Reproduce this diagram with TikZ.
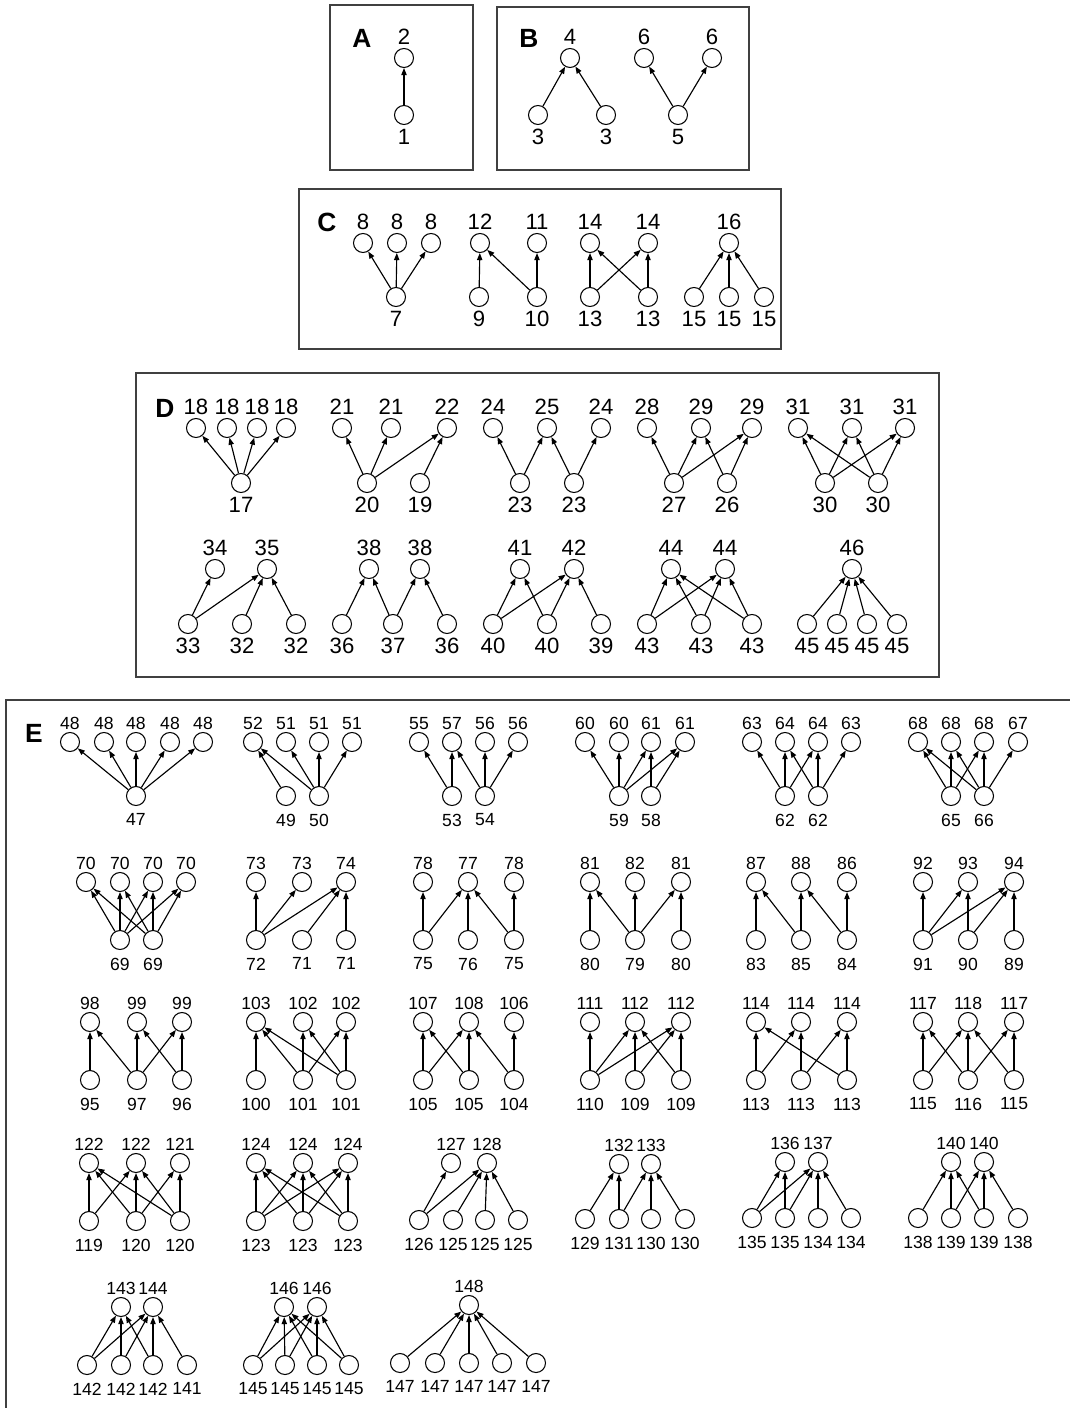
\documentclass[tikz,border=0pt]{standalone}
\usepackage{fontspec}
\setmainfont{Liberation Sans}
\usetikzlibrary{arrows.meta}
\tikzset{
  vtx/.style={circle,draw,line width=0.6pt,minimum size=0.38cm,inner sep=0pt},
  tlab/.style={label={[label distance=\tgap]above:#1}},
  blab/.style={label={[label distance=\bgap]below:#1}},
  link/.style={-{Triangle[length=4pt,width=3pt]},line width=0.65pt},
  panel/.style={draw=black!75,line width=0.9pt},
  tag/.style={font=\fontsize{15}{17}\selectfont\bfseries}
}
\def\tgap{1.6pt}
\def\bgap{2.1pt}
\begin{document}
\begin{tikzpicture}[x=0.02cm,y=0.02cm,every label/.style={inner sep=0pt,font=\fontsize{12.6}{14}\selectfont}]
\useasboundingbox (0,0) rectangle (1069,-1408);
\draw[panel] (330,-5) rectangle (473,-170);
\node[tag] (tA) at (362,-38) {A};
\node[vtx,tlab=2] (a2) at (404,-58) {};
\node[vtx,blab=1] (a1) at (404,-115) {};
\draw[link] (a1) -- (a2);
\draw[panel] (497,-7) rectangle (749,-170);
\node[tag] (tB) at (529,-38) {B};
\node[vtx,tlab=4] (b4) at (570,-58) {};
\node[vtx,tlab=6] (b6a) at (644,-58) {};
\node[vtx,tlab=6] (b6b) at (712,-58) {};
\node[vtx,blab=3] (b3a) at (538,-115) {};
\node[vtx,blab=3] (b3b) at (606,-115) {};
\node[vtx,blab=5] (b5) at (678,-115) {};
\draw[link] (b3a) -- (b4);
\draw[link] (b3b) -- (b4);
\draw[link] (b5) -- (b6a);
\draw[link] (b5) -- (b6b);
\draw[panel] (299,-189) rectangle (781,-349);
\node[tag] (tC) at (327,-222) {C};
\node[vtx,tlab=8] (c8a) at (363,-243) {};
\node[vtx,tlab=8] (c8b) at (397,-243) {};
\node[vtx,tlab=8] (c8c) at (431,-243) {};
\node[vtx,tlab=12] (c12) at (480,-243) {};
\node[vtx,tlab=11] (c11) at (537,-243) {};
\node[vtx,tlab=14] (c14a) at (590,-243) {};
\node[vtx,tlab=14] (c14b) at (648,-243) {};
\node[vtx,tlab=16] (c16) at (729,-243) {};
\node[vtx,blab=7] (c7) at (396,-297) {};
\node[vtx,blab=9] (c9) at (479,-297) {};
\node[vtx,blab=10] (c10) at (537,-297) {};
\node[vtx,blab=13] (c13a) at (590,-297) {};
\node[vtx,blab=13] (c13b) at (648,-297) {};
\node[vtx,blab=15] (c15a) at (694,-297) {};
\node[vtx,blab=15] (c15b) at (729,-297) {};
\node[vtx,blab=15] (c15c) at (764,-297) {};
\draw[link] (c7) -- (c8a);
\draw[link] (c7) -- (c8b);
\draw[link] (c7) -- (c8c);
\draw[link] (c9) -- (c12);
\draw[link] (c10) -- (c12);
\draw[link] (c10) -- (c11);
\draw[link] (c13a) -- (c14a);
\draw[link] (c13a) -- (c14b);
\draw[link] (c13b) -- (c14a);
\draw[link] (c13b) -- (c14b);
\draw[link] (c15a) -- (c16);
\draw[link] (c15b) -- (c16);
\draw[link] (c15c) -- (c16);
\draw[panel] (136,-373) rectangle (939,-677);
\node[tag] (tD) at (165,-408) {D};
\node[vtx,tlab=18] (d18a) at (196,-428) {};
\node[vtx,tlab=18] (d18b) at (227,-428) {};
\node[vtx,tlab=18] (d18c) at (257,-428) {};
\node[vtx,tlab=18] (d18d) at (286,-428) {};
\node[vtx,blab=17] (d17) at (241,-483) {};
\node[vtx,tlab=21] (d21a) at (342,-428) {};
\node[vtx,tlab=21] (d21b) at (391,-428) {};
\node[vtx,tlab=22] (d22) at (447,-428) {};
\node[vtx,blab=20] (d20) at (367,-483) {};
\node[vtx,blab=19] (d19) at (420,-483) {};
\node[vtx,tlab=24] (d24a) at (493,-428) {};
\node[vtx,tlab=25] (d25) at (547,-428) {};
\node[vtx,tlab=24] (d24b) at (601,-428) {};
\node[vtx,blab=23] (d23a) at (520,-483) {};
\node[vtx,blab=23] (d23b) at (574,-483) {};
\node[vtx,tlab=28] (d28) at (647,-428) {};
\node[vtx,tlab=29] (d29a) at (701,-428) {};
\node[vtx,tlab=29] (d29b) at (752,-428) {};
\node[vtx,blab=27] (d27) at (674,-483) {};
\node[vtx,blab=26] (d26) at (727,-483) {};
\node[vtx,tlab=31] (d31a) at (798,-428) {};
\node[vtx,tlab=31] (d31b) at (852,-428) {};
\node[vtx,tlab=31] (d31c) at (905,-428) {};
\node[vtx,blab=30] (d30a) at (825,-483) {};
\node[vtx,blab=30] (d30b) at (878,-483) {};
\node[vtx,tlab=34] (d34) at (215,-569) {};
\node[vtx,tlab=35] (d35) at (267,-569) {};
\node[vtx,blab=33] (d33) at (188,-624) {};
\node[vtx,blab=32] (d32a) at (242,-624) {};
\node[vtx,blab=32] (d32b) at (296,-624) {};
\node[vtx,tlab=38] (d38a) at (369,-569) {};
\node[vtx,tlab=38] (d38b) at (420,-569) {};
\node[vtx,blab=36] (d36a) at (342,-624) {};
\node[vtx,blab=37] (d37) at (393,-624) {};
\node[vtx,blab=36] (d36b) at (447,-624) {};
\node[vtx,tlab=41] (d41) at (520,-569) {};
\node[vtx,tlab=42] (d42) at (574,-569) {};
\node[vtx,blab=40] (d40a) at (493,-624) {};
\node[vtx,blab=40] (d40b) at (547,-624) {};
\node[vtx,blab=39] (d39) at (601,-624) {};
\node[vtx,tlab=44] (d44a) at (671,-569) {};
\node[vtx,tlab=44] (d44b) at (725,-569) {};
\node[vtx,blab=43] (d43a) at (647,-624) {};
\node[vtx,blab=43] (d43b) at (701,-624) {};
\node[vtx,blab=43] (d43c) at (752,-624) {};
\node[vtx,tlab=46] (d46) at (852,-569) {};
\node[vtx,blab=45] (d45a) at (807,-624) {};
\node[vtx,blab=45] (d45b) at (837,-624) {};
\node[vtx,blab=45] (d45c) at (867,-624) {};
\node[vtx,blab=45] (d45d) at (897,-624) {};
\draw[link] (d17) -- (d18a);
\draw[link] (d17) -- (d18b);
\draw[link] (d17) -- (d18c);
\draw[link] (d17) -- (d18d);
\draw[link] (d20) -- (d21a);
\draw[link] (d20) -- (d21b);
\draw[link] (d20) -- (d22);
\draw[link] (d19) -- (d22);
\draw[link] (d23a) -- (d24a);
\draw[link] (d23a) -- (d25);
\draw[link] (d23b) -- (d25);
\draw[link] (d23b) -- (d24b);
\draw[link] (d27) -- (d28);
\draw[link] (d27) -- (d29a);
\draw[link] (d27) -- (d29b);
\draw[link] (d26) -- (d29a);
\draw[link] (d26) -- (d29b);
\draw[link] (d30a) -- (d31a);
\draw[link] (d30a) -- (d31b);
\draw[link] (d30a) -- (d31c);
\draw[link] (d30b) -- (d31a);
\draw[link] (d30b) -- (d31b);
\draw[link] (d30b) -- (d31c);
\draw[link] (d33) -- (d34);
\draw[link] (d33) -- (d35);
\draw[link] (d32a) -- (d35);
\draw[link] (d32b) -- (d35);
\draw[link] (d36a) -- (d38a);
\draw[link] (d37) -- (d38a);
\draw[link] (d37) -- (d38b);
\draw[link] (d36b) -- (d38b);
\draw[link] (d40a) -- (d41);
\draw[link] (d40a) -- (d42);
\draw[link] (d40b) -- (d41);
\draw[link] (d40b) -- (d42);
\draw[link] (d39) -- (d42);
\draw[link] (d43a) -- (d44a);
\draw[link] (d43a) -- (d44b);
\draw[link] (d43b) -- (d44a);
\draw[link] (d43b) -- (d44b);
\draw[link] (d43c) -- (d44a);
\draw[link] (d43c) -- (d44b);
\draw[link] (d45a) -- (d46);
\draw[link] (d45b) -- (d46);
\draw[link] (d45c) -- (d46);
\draw[link] (d45d) -- (d46);
\begin{scope}[every label/.append style={font=\fontsize{10}{12}\selectfont}]
\def\tgap{1.1pt}
\def\bgap{4.2pt}
\draw[panel] (1080,-700) -- (6,-700) -- (6,-1420);
\node[tag] (tE) at (34,-733) {E};
% row 1
\node[vtx,tlab=48] (e48a) at (70,-742) {};
\node[vtx,tlab=48] (e48b) at (104,-742) {};
\node[vtx,tlab=48] (e48c) at (136,-742) {};
\node[vtx,tlab=48] (e48d) at (170,-742) {};
\node[vtx,tlab=48] (e48e) at (203,-742) {};
\node[vtx,blab=47] (e47) at (136,-796) {};
\node[vtx,tlab=52] (e52) at (253,-742) {};
\node[vtx,tlab=51] (e51a) at (286,-742) {};
\node[vtx,tlab=51] (e51b) at (319,-742) {};
\node[vtx,tlab=51] (e51c) at (352,-742) {};
\node[vtx,blab=49] (e49) at (286,-796) {};
\node[vtx,blab=50] (e50) at (319,-796) {};
\node[vtx,tlab=55] (e55) at (419,-742) {};
\node[vtx,tlab=57] (e57) at (452,-742) {};
\node[vtx,tlab=56] (e56a) at (485,-742) {};
\node[vtx,tlab=56] (e56b) at (518,-742) {};
\node[vtx,blab=53] (e53) at (452,-796) {};
\node[vtx,blab=54] (e54) at (485,-796) {};
\node[vtx,tlab=60] (e60a) at (585,-742) {};
\node[vtx,tlab=60] (e60b) at (619,-742) {};
\node[vtx,tlab=61] (e61a) at (651,-742) {};
\node[vtx,tlab=61] (e61b) at (685,-742) {};
\node[vtx,blab=59] (e59) at (619,-796) {};
\node[vtx,blab=58] (e58) at (651,-796) {};
\node[vtx,tlab=63] (e63a) at (752,-742) {};
\node[vtx,tlab=64] (e64a) at (785,-742) {};
\node[vtx,tlab=64] (e64b) at (818,-742) {};
\node[vtx,tlab=63] (e63b) at (851,-742) {};
\node[vtx,blab=62] (e62a) at (785,-796) {};
\node[vtx,blab=62] (e62b) at (818,-796) {};
\node[vtx,tlab=68] (e68a) at (918,-742) {};
\node[vtx,tlab=68] (e68b) at (951,-742) {};
\node[vtx,tlab=68] (e68c) at (984,-742) {};
\node[vtx,tlab=67] (e67) at (1018,-742) {};
\node[vtx,blab=65] (e65) at (951,-796) {};
\node[vtx,blab=66] (e66) at (984,-796) {};
\draw[link] (e47) -- (e48a);
\draw[link] (e47) -- (e48b);
\draw[link] (e47) -- (e48c);
\draw[link] (e47) -- (e48d);
\draw[link] (e47) -- (e48e);
\draw[link] (e49) -- (e52);
\draw[link] (e50) -- (e52);
\draw[link] (e50) -- (e51a);
\draw[link] (e50) -- (e51b);
\draw[link] (e50) -- (e51c);
\draw[link] (e53) -- (e55);
\draw[link] (e53) -- (e57);
\draw[link] (e54) -- (e57);
\draw[link] (e54) -- (e56a);
\draw[link] (e54) -- (e56b);
\draw[link] (e59) -- (e60a);
\draw[link] (e59) -- (e60b);
\draw[link] (e59) -- (e61a);
\draw[link] (e59) -- (e61b);
\draw[link] (e58) -- (e61a);
\draw[link] (e58) -- (e61b);
\draw[link] (e62a) -- (e63a);
\draw[link] (e62a) -- (e64a);
\draw[link] (e62a) -- (e64b);
\draw[link] (e62b) -- (e64a);
\draw[link] (e62b) -- (e64b);
\draw[link] (e62b) -- (e63b);
\draw[link] (e65) -- (e68a);
\draw[link] (e65) -- (e68b);
\draw[link] (e65) -- (e68c);
\draw[link] (e66) -- (e68a);
\draw[link] (e66) -- (e68b);
\draw[link] (e66) -- (e68c);
\draw[link] (e66) -- (e67);
% row 2
\node[vtx,tlab=70] (e70a) at (86,-882) {};
\node[vtx,tlab=70] (e70b) at (120,-882) {};
\node[vtx,tlab=70] (e70c) at (153,-882) {};
\node[vtx,tlab=70] (e70d) at (186,-882) {};
\node[vtx,blab=69] (e69a) at (120,-940) {};
\node[vtx,blab=69] (e69b) at (153,-940) {};
\node[vtx,tlab=73] (e73a) at (256,-882) {};
\node[vtx,tlab=73] (e73b) at (302,-882) {};
\node[vtx,tlab=74] (e74) at (346,-882) {};
\node[vtx,blab=72] (e72) at (256,-940) {};
\node[vtx,blab=71] (e71a) at (302,-940) {};
\node[vtx,blab=71] (e71b) at (346,-940) {};
\node[vtx,tlab=78] (e78a) at (423,-882) {};
\node[vtx,tlab=77] (e77) at (468,-882) {};
\node[vtx,tlab=78] (e78b) at (514,-882) {};
\node[vtx,blab=75] (e75a) at (423,-940) {};
\node[vtx,blab=76] (e76) at (468,-940) {};
\node[vtx,blab=75] (e75b) at (514,-940) {};
\node[vtx,tlab=81] (e81a) at (590,-882) {};
\node[vtx,tlab=82] (e82) at (635,-882) {};
\node[vtx,tlab=81] (e81b) at (681,-882) {};
\node[vtx,blab=80] (e80a) at (590,-940) {};
\node[vtx,blab=79] (e79) at (635,-940) {};
\node[vtx,blab=80] (e80b) at (681,-940) {};
\node[vtx,tlab=87] (e87) at (756,-882) {};
\node[vtx,tlab=88] (e88) at (801,-882) {};
\node[vtx,tlab=86] (e86) at (847,-882) {};
\node[vtx,blab=83] (e83) at (756,-940) {};
\node[vtx,blab=85] (e85) at (801,-940) {};
\node[vtx,blab=84] (e84) at (847,-940) {};
\node[vtx,tlab=92] (e92) at (923,-882) {};
\node[vtx,tlab=93] (e93) at (968,-882) {};
\node[vtx,tlab=94] (e94) at (1014,-882) {};
\node[vtx,blab=91] (e91) at (923,-940) {};
\node[vtx,blab=90] (e90) at (968,-940) {};
\node[vtx,blab=89] (e89) at (1014,-940) {};
\draw[link] (e69a) -- (e70a);
\draw[link] (e69a) -- (e70b);
\draw[link] (e69a) -- (e70c);
\draw[link] (e69a) -- (e70d);
\draw[link] (e69b) -- (e70a);
\draw[link] (e69b) -- (e70b);
\draw[link] (e69b) -- (e70c);
\draw[link] (e69b) -- (e70d);
\draw[link] (e72) -- (e73a);
\draw[link] (e72) -- (e73b);
\draw[link] (e72) -- (e74);
\draw[link] (e71a) -- (e74);
\draw[link] (e71b) -- (e74);
\draw[link] (e75a) -- (e78a);
\draw[link] (e75a) -- (e77);
\draw[link] (e76) -- (e77);
\draw[link] (e75b) -- (e77);
\draw[link] (e75b) -- (e78b);
\draw[link] (e80a) -- (e81a);
\draw[link] (e79) -- (e81a);
\draw[link] (e79) -- (e82);
\draw[link] (e79) -- (e81b);
\draw[link] (e80b) -- (e81b);
\draw[link] (e83) -- (e87);
\draw[link] (e85) -- (e87);
\draw[link] (e85) -- (e88);
\draw[link] (e84) -- (e88);
\draw[link] (e84) -- (e86);
\draw[link] (e91) -- (e92);
\draw[link] (e91) -- (e93);
\draw[link] (e91) -- (e94);
\draw[link] (e90) -- (e93);
\draw[link] (e90) -- (e94);
\draw[link] (e89) -- (e94);
% row 3
\node[vtx,tlab=98] (e98) at (90,-1022) {};
\node[vtx,tlab=99] (e99a) at (137,-1022) {};
\node[vtx,tlab=99] (e99b) at (182,-1022) {};
\node[vtx,blab=95] (e95) at (90,-1080) {};
\node[vtx,blab=97] (e97) at (137,-1080) {};
\node[vtx,blab=96] (e96) at (182,-1080) {};
\node[vtx,tlab=103] (e103) at (256,-1022) {};
\node[vtx,tlab=102] (e102a) at (303,-1022) {};
\node[vtx,tlab=102] (e102b) at (346,-1022) {};
\node[vtx,blab=100] (e100) at (256,-1080) {};
\node[vtx,blab=101] (e101a) at (303,-1080) {};
\node[vtx,blab=101] (e101b) at (346,-1080) {};
\node[vtx,tlab=107] (e107) at (423,-1022) {};
\node[vtx,tlab=108] (e108) at (469,-1022) {};
\node[vtx,tlab=106] (e106) at (514,-1022) {};
\node[vtx,blab=105] (e105a) at (423,-1080) {};
\node[vtx,blab=105] (e105b) at (469,-1080) {};
\node[vtx,blab=104] (e104) at (514,-1080) {};
\node[vtx,tlab=111] (e111) at (590,-1022) {};
\node[vtx,tlab=112] (e112a) at (635,-1022) {};
\node[vtx,tlab=112] (e112b) at (681,-1022) {};
\node[vtx,blab=110] (e110) at (590,-1080) {};
\node[vtx,blab=109] (e109a) at (635,-1080) {};
\node[vtx,blab=109] (e109b) at (681,-1080) {};
\node[vtx,tlab=114] (e114a) at (756,-1022) {};
\node[vtx,tlab=114] (e114b) at (801,-1022) {};
\node[vtx,tlab=114] (e114c) at (847,-1022) {};
\node[vtx,blab=113] (e113a) at (756,-1080) {};
\node[vtx,blab=113] (e113b) at (801,-1080) {};
\node[vtx,blab=113] (e113c) at (847,-1080) {};
\node[vtx,tlab=117] (e117a) at (923,-1022) {};
\node[vtx,tlab=118] (e118) at (968,-1022) {};
\node[vtx,tlab=117] (e117b) at (1014,-1022) {};
\node[vtx,blab=115] (e115a) at (923,-1080) {};
\node[vtx,blab=116] (e116) at (968,-1080) {};
\node[vtx,blab=115] (e115b) at (1014,-1080) {};
\draw[link] (e95) -- (e98);
\draw[link] (e97) -- (e98);
\draw[link] (e97) -- (e99a);
\draw[link] (e97) -- (e99b);
\draw[link] (e96) -- (e99a);
\draw[link] (e96) -- (e99b);
\draw[link] (e100) -- (e103);
\draw[link] (e101a) -- (e103);
\draw[link] (e101a) -- (e102a);
\draw[link] (e101a) -- (e102b);
\draw[link] (e101b) -- (e103);
\draw[link] (e101b) -- (e102a);
\draw[link] (e101b) -- (e102b);
\draw[link] (e105a) -- (e107);
\draw[link] (e105a) -- (e108);
\draw[link] (e105b) -- (e107);
\draw[link] (e105b) -- (e108);
\draw[link] (e104) -- (e108);
\draw[link] (e104) -- (e106);
\draw[link] (e110) -- (e111);
\draw[link] (e110) -- (e112a);
\draw[link] (e110) -- (e112b);
\draw[link] (e109a) -- (e112a);
\draw[link] (e109a) -- (e112b);
\draw[link] (e109b) -- (e112a);
\draw[link] (e109b) -- (e112b);
\draw[link] (e113a) -- (e114a);
\draw[link] (e113a) -- (e114b);
\draw[link] (e113b) -- (e114b);
\draw[link] (e113b) -- (e114c);
\draw[link] (e113c) -- (e114a);
\draw[link] (e113c) -- (e114c);
\draw[link] (e115a) -- (e117a);
\draw[link] (e115a) -- (e118);
\draw[link] (e116) -- (e117a);
\draw[link] (e116) -- (e118);
\draw[link] (e116) -- (e117b);
\draw[link] (e115b) -- (e118);
\draw[link] (e115b) -- (e117b);
% row 4
\node[vtx,tlab=122] (e122a) at (89,-1163) {};
\node[vtx,tlab=122] (e122b) at (136,-1163) {};
\node[vtx,tlab=121] (e121) at (180,-1163) {};
\node[vtx,blab=119] (e119) at (89,-1221) {};
\node[vtx,blab=120] (e120a) at (136,-1221) {};
\node[vtx,blab=120] (e120b) at (180,-1221) {};
\node[vtx,tlab=124] (e124a) at (256,-1163) {};
\node[vtx,tlab=124] (e124b) at (303,-1163) {};
\node[vtx,tlab=124] (e124c) at (348,-1163) {};
\node[vtx,blab=123] (e123a) at (256,-1221) {};
\node[vtx,blab=123] (e123b) at (303,-1221) {};
\node[vtx,blab=123] (e123c) at (348,-1221) {};
\node[vtx,tlab=127] (e127) at (451,-1163) {};
\node[vtx,tlab=128] (e128) at (487,-1163) {};
\node[vtx,blab=126] (e126) at (419,-1220) {};
\node[vtx,blab=125] (e125a) at (453,-1220) {};
\node[vtx,blab=125] (e125b) at (485,-1220) {};
\node[vtx,blab=125] (e125c) at (518,-1220) {};
\node[vtx,tlab=132] (e132) at (619,-1164) {};
\node[vtx,tlab=133] (e133) at (651,-1164) {};
\node[vtx,blab=129] (e129) at (585,-1219) {};
\node[vtx,blab=131] (e131) at (619,-1219) {};
\node[vtx,blab=130] (e130a) at (651,-1219) {};
\node[vtx,blab=130] (e130b) at (685,-1219) {};
\node[vtx,tlab=136] (e136) at (785,-1162) {};
\node[vtx,tlab=137] (e137) at (818,-1162) {};
\node[vtx,blab=135] (e135a) at (752,-1218) {};
\node[vtx,blab=135] (e135b) at (785,-1218) {};
\node[vtx,blab=134] (e134a) at (818,-1218) {};
\node[vtx,blab=134] (e134b) at (851,-1218) {};
\node[vtx,tlab=140] (e140a) at (951,-1162) {};
\node[vtx,tlab=140] (e140b) at (984,-1162) {};
\node[vtx,blab=138] (e138a) at (918,-1218) {};
\node[vtx,blab=139] (e139a) at (951,-1218) {};
\node[vtx,blab=139] (e139b) at (984,-1218) {};
\node[vtx,blab=138] (e138b) at (1018,-1218) {};
\draw[link] (e119) -- (e122a);
\draw[link] (e119) -- (e122b);
\draw[link] (e120a) -- (e122a);
\draw[link] (e120a) -- (e122b);
\draw[link] (e120a) -- (e121);
\draw[link] (e120b) -- (e122a);
\draw[link] (e120b) -- (e122b);
\draw[link] (e120b) -- (e121);
\draw[link] (e123a) -- (e124a);
\draw[link] (e123a) -- (e124b);
\draw[link] (e123a) -- (e124c);
\draw[link] (e123b) -- (e124a);
\draw[link] (e123b) -- (e124b);
\draw[link] (e123b) -- (e124c);
\draw[link] (e123c) -- (e124a);
\draw[link] (e123c) -- (e124b);
\draw[link] (e123c) -- (e124c);
\draw[link] (e126) -- (e127);
\draw[link] (e126) -- (e128);
\draw[link] (e125a) -- (e128);
\draw[link] (e125b) -- (e128);
\draw[link] (e125c) -- (e128);
\draw[link] (e129) -- (e132);
\draw[link] (e131) -- (e132);
\draw[link] (e131) -- (e133);
\draw[link] (e130a) -- (e133);
\draw[link] (e130b) -- (e133);
\draw[link] (e135a) -- (e136);
\draw[link] (e135a) -- (e137);
\draw[link] (e135b) -- (e136);
\draw[link] (e135b) -- (e137);
\draw[link] (e134a) -- (e137);
\draw[link] (e134b) -- (e137);
\draw[link] (e138a) -- (e140a);
\draw[link] (e139a) -- (e140a);
\draw[link] (e139a) -- (e140b);
\draw[link] (e139b) -- (e140a);
\draw[link] (e139b) -- (e140b);
\draw[link] (e138b) -- (e140b);
% row 5
\node[vtx,tlab=143] (e143) at (121,-1307) {};
\node[vtx,tlab=144] (e144) at (153,-1307) {};
\node[vtx,blab=142] (e142a) at (87,-1365) {};
\node[vtx,blab=142] (e142b) at (121,-1365) {};
\node[vtx,blab=142] (e142c) at (153,-1365) {};
\node[vtx,blab=141] (e141) at (187,-1365) {};
\node[vtx,tlab=146] (e146a) at (284,-1307) {};
\node[vtx,tlab=146] (e146b) at (317,-1307) {};
\node[vtx,blab=145] (e145a) at (253,-1365) {};
\node[vtx,blab=145] (e145b) at (285,-1365) {};
\node[vtx,blab=145] (e145c) at (317,-1365) {};
\node[vtx,blab=145] (e145d) at (349,-1365) {};
\node[vtx,tlab=148] (e148) at (469,-1305) {};
\node[vtx,blab=147] (e147a) at (400,-1363) {};
\node[vtx,blab=147] (e147b) at (435,-1363) {};
\node[vtx,blab=147] (e147c) at (469,-1363) {};
\node[vtx,blab=147] (e147d) at (502,-1363) {};
\node[vtx,blab=147] (e147e) at (536,-1363) {};
\draw[link] (e142a) -- (e143);
\draw[link] (e142a) -- (e144);
\draw[link] (e142b) -- (e143);
\draw[link] (e142b) -- (e144);
\draw[link] (e142c) -- (e143);
\draw[link] (e142c) -- (e144);
\draw[link] (e141) -- (e144);
\draw[link] (e145a) -- (e146a);
\draw[link] (e145a) -- (e146b);
\draw[link] (e145b) -- (e146a);
\draw[link] (e145b) -- (e146b);
\draw[link] (e145c) -- (e146a);
\draw[link] (e145c) -- (e146b);
\draw[link] (e145d) -- (e146a);
\draw[link] (e145d) -- (e146b);
\draw[link] (e147a) -- (e148);
\draw[link] (e147b) -- (e148);
\draw[link] (e147c) -- (e148);
\draw[link] (e147d) -- (e148);
\draw[link] (e147e) -- (e148);
\end{scope}
\end{tikzpicture}
\end{document}
